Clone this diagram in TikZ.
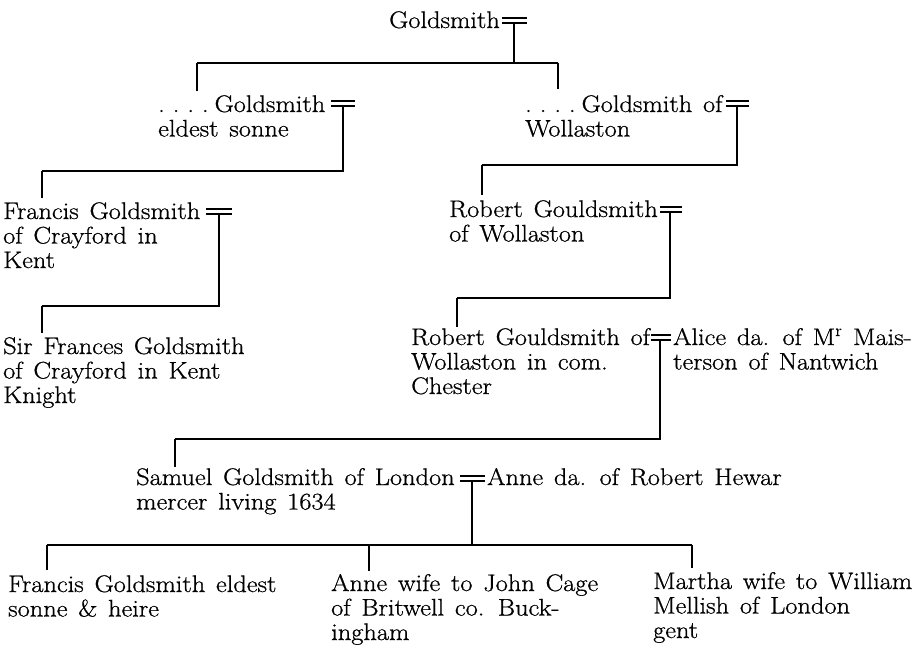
\documentclass[tikz,border=0pt]{standalone}
\usepackage{fontspec}
\setmainfont{Latin Modern Roman}[FakeStretch=1.1, FakeBold=0.8]
\newcommand\personfont{\fontsize{24}{24.5}\selectfont\spaceskip=0.45em plus 0.1em minus 0.05em\relax}
\newcommand\plines[1]{\begin{tabular}[t]{@{}l@{}}#1\end{tabular}}
\newcommand\fourdots{.\hspace{8pt}.\hspace{8pt}.\hspace{8pt}.\hspace{6pt}}
\begin{document}
\begin{tikzpicture}[x=1pt,y=-1pt,
  person/.style={anchor=base west, inner sep=0pt, font=\personfont},
  conn/.style={line width=1.2pt, black}]
\useasboundingbox (0,0) rectangle (916,649);

% generation 1
\node[person] (g0) at (389,28) {Goldsmith};
\draw[conn] (502,18) -- (527,18) (502,23) -- (527,23);
\coordinate (m0) at (514,23);
\coordinate (h0L) at (197,63);
\coordinate (h0R) at (558,63);
\draw[conn] (m0) -- (m0 |- h0L);
\draw[conn] (h0L) -- (h0R);
\draw[conn] (h0L) -- ++(0,28);
\draw[conn] (h0R) -- ++(0,26);

% generation 2
\node[person] (a1) at (158,112) {\plines{\fourdots Goldsmith\\eldest sonne}};
\node[person] (a2) at (525,112) {\plines{\fourdots Goldsmith of\\Wollaston}};
\draw[conn] (331,101) -- (355,101) (331,106) -- (355,106);
\coordinate (m1) at (343,106);
\draw[conn] (726,101) -- (749,101) (726,106) -- (749,106);
\coordinate (m2) at (737,106);

\coordinate (h1L) at (42,171);
\coordinate (h1R) at (343,171);
\draw[conn] (m1) -- (h1R) -- (h1L);
\draw[conn] (h1L) -- ++(0,27);

\coordinate (h2L) at (482,165);
\coordinate (h2R) at (737,165);
\draw[conn] (m2) -- (h2R) -- (h2L);
\draw[conn] (h2L) -- ++(0,30);

% generation 3 left
\node[person] (b1) at (3,219) {\plines{Francis Goldsmith\\of Crayford in\\Kent}};
\draw[conn] (206,209) -- (232,209) (206,214) -- (232,214);
\coordinate (m3) at (219,214);
\coordinate (h3L) at (42,306);
\coordinate (h3R) at (219,306);
\draw[conn] (m3) -- (h3R) -- (h3L);
\draw[conn] (h3L) -- ++(0,27);
\node[person] (b2) at (3,354) {\plines{Sir Frances Goldsmith\\of Crayford in Kent\\Knight}};

% generation 3 right
\node[person] (c1) at (449,217) {\plines{Robert Gouldsmith\\of Wollaston}};
\draw[conn] (660,207) -- (682,207) (660,212) -- (682,212);
\coordinate (m4) at (670,212);
\coordinate (h4L) at (457,298);
\coordinate (h4R) at (670,298);
\draw[conn] (m4) -- (h4R) -- (h4L);
\draw[conn] (h4L) -- ++(0,29);

% generation 4
\node[person] (c2) at (411,345) {\plines{Robert Gouldsmith of\\Wollaston in com.\\Chester}};
\draw[conn] (651,335) -- (671,335) (651,340) -- (671,340);
\coordinate (m5) at (660,340);
\node[person] (c3) at (673,345) {\plines{Alice da. of M\textsuperscript{r} Mais-\\terson of Nantwich}};
\coordinate (h5L) at (175,439);
\coordinate (h5R) at (660,439);
\draw[conn] (m5) -- (h5R) -- (h5L);
\draw[conn] (h5L) -- ++(0,28);

% generation 5
\node[person] (d1) at (136,485) {\plines{Samuel Goldsmith of London\\mercer living 1634}};
\draw[conn] (460,476) -- (485,476) (460,481) -- (485,481);
\coordinate (m6) at (472,481);
\node[person] (d2) at (487,485) {Anne da. of Robert Hewar};
\coordinate (h6L) at (47,545);
\coordinate (h6M) at (369,545);
\coordinate (h6R) at (692,545);
\draw[conn] (m6) -- (m6 |- h6L);
\draw[conn] (h6L) -- (h6R);
\draw[conn] (h6L) -- ++(0,25);
\draw[conn] (h6M) -- ++(0,26);
\draw[conn] (h6R) -- ++(0,23);

% generation 6
\node[person] (e1) at (8,592) {\plines{Francis Goldsmith eldest\\sonne \& heire}};
\node[person] (e2) at (331,591) {\plines{Anne wife to John Cage\\of Britwell co. Buck-\\ingham}};
\node[person] (e3) at (653,589) {\plines{Martha wife to William\\Mellish of London\\gent}};
\end{tikzpicture}
\end{document}
